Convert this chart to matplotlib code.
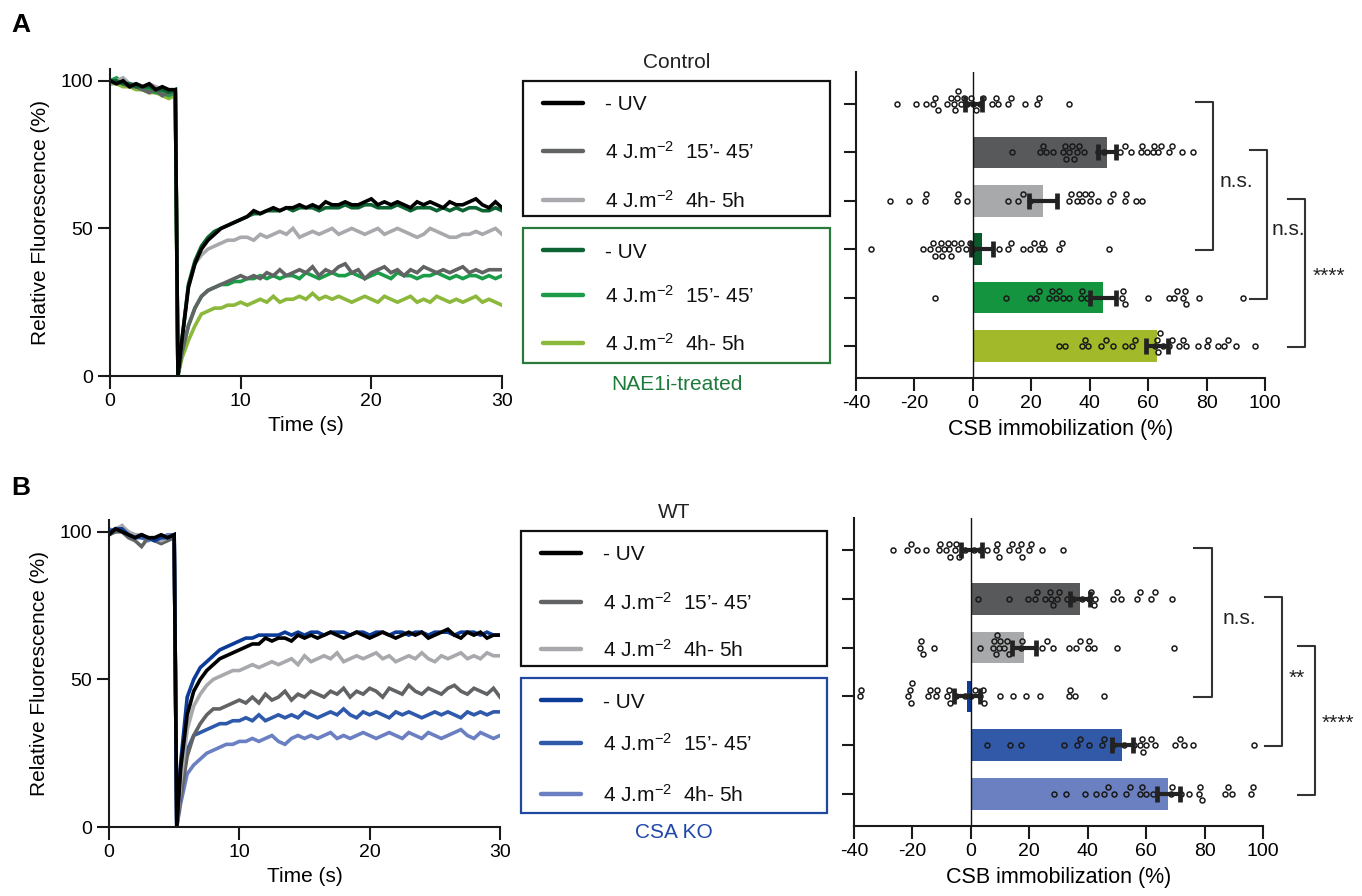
import matplotlib
matplotlib.use('Agg')
import matplotlib.pyplot as plt
from matplotlib.patches import Rectangle

plt.rcParams['font.family'] = ['Liberation Sans', 'DejaVu Sans']
plt.rcParams['mathtext.fontset'] = 'custom'
plt.rcParams['mathtext.rm'] = 'Liberation Sans'
plt.rcParams['mathtext.it'] = 'Liberation Sans:italic'
plt.rcParams['mathtext.bf'] = 'Liberation Sans:bold'
plt.rcParams['mathtext.default'] = 'regular'
plt.rcParams['axes.unicode_minus'] = False

# ---------------- DATA ----------------
TIME = [0.0, 0.5, 1.0, 1.5, 2.0, 2.5, 3.0, 3.5, 4.0, 4.5, 5.0, 5.2,
        5.5, 6.0, 6.5, 7.0, 7.5, 8.0, 8.5, 9.0, 9.5, 10.0,
        10.5, 11.0, 11.5, 12.0, 12.5, 13.0, 13.5, 14.0, 14.5, 15.0,
        15.5, 16.0, 16.5, 17.0, 17.5, 18.0, 18.5, 19.0, 19.5, 20.0,
        20.5, 21.0, 21.5, 22.0, 22.5, 23.0, 23.5, 24.0, 24.5, 25.0,
        25.5, 26.0, 26.5, 27.0, 27.5, 28.0, 28.5, 29.0, 29.5, 30.0]

# Panel A FRAP curves (Relative fluorescence, %)
A_CTRL_NOUV = [100, 99, 100, 98, 99, 98, 99, 97, 98, 97, 97, 0,
               12, 30, 38, 43, 46, 48, 50, 51, 52, 53,
               54, 56, 55, 56, 57, 56, 57, 57, 58, 57,
               58, 57, 59, 58, 58, 59, 58, 58, 59, 60,
               58, 59, 58, 59, 58, 57, 59, 58, 59, 58,
               57, 59, 58, 58, 59, 60, 58, 57, 59, 57]
A_CTRL_15 = [99, 100, 99, 98, 98, 97, 96, 97, 95, 96, 96, 0,
             8, 17, 23, 27, 29, 30, 31, 32, 33, 34,
             33, 34, 33, 35, 34, 36, 34, 35, 36, 35,
             37, 34, 36, 35, 37, 38, 35, 36, 33, 35,
             36, 37, 35, 36, 34, 36, 35, 37, 36, 35,
             36, 35, 36, 37, 35, 36, 35, 36, 36, 36]
A_CTRL_4H = [99, 100, 101, 99, 99, 98, 99, 98, 97, 96, 97, 0,
             12, 30, 38, 41, 43, 44, 45, 46, 46, 47,
             47, 46, 48, 47, 48, 49, 48, 50, 47, 48,
             49, 48, 49, 50, 48, 49, 50, 49, 48, 49,
             50, 48, 49, 50, 49, 48, 47, 48, 50, 49,
             48, 47, 47, 48, 48, 49, 48, 49, 50, 48]
A_NAE_NOUV = [100, 100, 99, 99, 98, 98, 98, 97, 97, 96, 97, 0,
              12, 31, 39, 44, 47, 49, 50, 51, 52, 53,
              54, 55, 55, 56, 56, 56, 57, 56, 57, 57,
              57, 56, 57, 57, 57, 58, 57, 57, 58, 58,
              57, 57, 57, 58, 57, 56, 57, 57, 57, 56,
              57, 56, 57, 56, 57, 57, 56, 56, 57, 56]
A_NAE_15 = [100, 101, 99, 99, 98, 97, 97, 96, 96, 95, 96, 0,
            8, 17, 23, 27, 29, 30, 31, 31, 32, 32,
            33, 33, 34, 33, 34, 33, 34, 34, 33, 35,
            34, 33, 34, 35, 34, 34, 35, 34, 33, 34,
            35, 34, 33, 35, 34, 34, 33, 34, 34, 35,
            34, 33, 34, 33, 34, 34, 33, 34, 33, 34]
A_NAE_4H = [99, 99, 98, 98, 97, 97, 96, 96, 95, 94, 95, 0,
            6, 12, 17, 21, 22, 23, 23, 24, 24, 25,
            24, 25, 26, 25, 27, 25, 26, 26, 27, 26,
            28, 26, 27, 26, 27, 26, 25, 26, 27, 26,
            25, 27, 26, 25, 26, 27, 25, 26, 25, 27,
            26, 25, 26, 25, 26, 27, 25, 26, 25, 24]

# Panel B FRAP curves
B_WT_NOUV = [99, 101, 100, 99, 98, 99, 98, 98, 99, 98, 99, 0,
             20, 38, 46, 50, 53, 55, 57, 58, 59, 60,
             61, 62, 62, 64, 63, 64, 64, 63, 65, 64,
             65, 64, 65, 66, 65, 64, 65, 66, 65, 64,
             65, 66, 65, 64, 65, 66, 65, 66, 64, 65,
             66, 67, 65, 64, 66, 65, 66, 64, 65, 65]
B_WT_15 = [99, 100, 100, 98, 97, 95, 98, 97, 96, 97, 98, 0,
           10, 24, 31, 35, 38, 40, 40, 41, 42, 43,
           42, 44, 42, 45, 43, 44, 46, 43, 45, 44,
           46, 45, 44, 46, 45, 47, 44, 46, 45, 47,
           46, 44, 47, 46, 45, 48, 46, 45, 47, 46,
           45, 47, 48, 46, 45, 47, 46, 45, 47, 44]
B_WT_4H = [100, 101, 102, 100, 99, 99, 98, 98, 97, 98, 99, 0,
           15, 33, 41, 45, 48, 50, 51, 52, 53, 53,
           54, 55, 54, 55, 56, 55, 56, 57, 55, 58,
           56, 57, 58, 57, 59, 56, 57, 58, 57, 58,
           59, 57, 58, 56, 57, 58, 57, 59, 57, 56,
           58, 57, 58, 59, 57, 58, 57, 59, 58, 58]
B_KO_NOUV = [100, 101, 101, 99, 98, 99, 98, 97, 98, 98, 99, 0,
             22, 44, 50, 54, 56, 58, 60, 61, 62, 63,
             64, 64, 65, 65, 65, 65, 66, 65, 66, 65,
             66, 66, 65, 66, 66, 66, 65, 66, 66, 65,
             66, 66, 65, 66, 66, 65, 66, 66, 65, 66,
             66, 66, 65, 66, 66, 66, 65, 66, 65, 65]
B_KO_15 = [99, 101, 100, 99, 98, 98, 98, 97, 98, 98, 99, 0,
           12, 26, 31, 32, 33, 34, 35, 35, 36, 36,
           37, 36, 38, 36, 37, 38, 37, 38, 37, 39,
           38, 37, 38, 39, 38, 40, 38, 37, 39, 38,
           39, 38, 37, 39, 38, 39, 38, 37, 38, 39,
           38, 39, 38, 37, 39, 38, 39, 38, 39, 39]
B_KO_4H = [101, 100, 102, 99, 99, 98, 97, 98, 98, 99, 99, 0,
           8, 18, 21, 23, 25, 26, 27, 28, 28, 29,
           29, 30, 29, 30, 31, 29, 28, 30, 31, 30,
           31, 30, 31, 32, 30, 31, 30, 31, 32, 31,
           30, 31, 32, 31, 30, 32, 31, 30, 32, 31,
           30, 31, 32, 33, 31, 30, 32, 31, 30, 31]

LEGEND_LABELS = ['- UV', r'4 J.m$^{-2}$  15’- 45’', r'4 J.m$^{-2}$  4h- 5h']

# Bar charts: CSB immobilization (%) mean, SEM and individual cells
A_MEANS = [0.3, 46, 24, 3, 44.6, 63]
A_SEM = [3, 3, 4.8, 3.8, 4.5, 3.8]
A_DOTS = [
    [-26, -19.5, -16, -13.5, -13, -12, -9, -7.5, -6.5, -6, -5.5, -5, -4, -3, -2,
     -0.5, 0, 1, 2.5, 3.5, 6.5, 8, 8.5, 12, 13, 18, 22, 22.5, 33],
    [13.5, 23, 24, 25, 27.5, 31, 31.5, 32, 33, 34, 34.5, 35.5, 36.5, 38, 43, 45,
     50.5, 52, 54, 57.5, 58, 59.5, 61.5, 62, 63.5, 64.5, 67, 68, 71.5, 75.5],
    [-28.5, -22, -16.5, -16, -5.5, -5, -2, 12, 15.5, 17, 19.5, 33, 33.5, 35.5,
     36.5, 37.5, 38.5, 40, 40.5, 43, 47, 48, 52, 52.5, 56, 58],
    [-35, -17, -14.5, -13.5, -13, -12, -11, -10.5, -10, -8.5, -8, -7.5, -6.5, -5,
     -4, -2.5, -1, 0, 9, 12, 13, 17, 19.5, 21, 22.5, 23.5, 24.5, 29.5, 30.5, 46.5],
    [-13, 11.5, 19.5, 21.5, 22.5, 26, 27, 28.5, 29.5, 31, 33, 37, 37.5, 39, 51,
     51.5, 52, 60, 67, 69, 70, 72, 72.5, 73, 77.5, 92.5],
    [29.5, 31.5, 37.5, 38.5, 39.5, 44, 45.5, 48, 52, 54.5, 55.5, 62.5, 63, 63.5,
     64, 65, 67, 68, 70.5, 72, 73, 77, 80, 80.5, 84, 86, 87.5, 90, 96.5],
]
B_MEANS = [0.2, 37.4, 18.2, -1.3, 51.9, 67.6]
B_SEM = [3.6, 3.4, 4.2, 4.4, 3.7, 4.0]
B_DOTS = [
    [-26.5, -22, -20.5, -18.5, -15.5, -11, -10.5, -8.5, -7.5, -7, -5.5, -5, -4,
     -2, 1, 3, 5.5, 8.5, 9, 9.5, 13, 14, 16, 17, 17.5, 20, 20.5, 24.5, 31.5],
    [2.5, 13, 19.5, 22, 22.5, 25.5, 27, 27.5, 28, 29.5, 30, 33, 35, 38, 40.5, 41,
     42, 42.5, 48.5, 50, 51.5, 57, 58, 61.5, 63, 69],
    [-17.5, -17, -16.5, -12.5, 3, 7.5, 8, 8.5, 9, 9.5, 10, 11.5, 12.5, 13, 17,
     17.5, 24.5, 26, 28, 33.5, 36, 37.5, 40, 40.5, 42, 50, 69.5],
    [-38, -37.5, -21.5, -21, -20.5, -20, -14.5, -14, -12, -11.5, -8, -7.5, -7, -5,
     -2, 0, 1.5, 3, 4, 4.5, 10, 14.5, 19, 23.5, 33.5, 34, 35.5, 45.5],
    [5.5, 13.5, 17, 32, 36.5, 37.5, 40.5, 45, 45.5, 48.5, 52.5, 56, 58, 58.5, 59,
     60, 61.5, 63, 70, 71.5, 73, 76, 97],
    [28.5, 32.5, 39, 43, 45.5, 47, 49, 53, 54.5, 58, 58.5, 60, 62.5, 68.5, 69, 72,
     74.5, 78, 78.5, 79, 87, 88, 89.5, 96, 96.5],
]
A_SIG = [(0, 3, 'n.s.'), (1, 4, 'n.s.'), (2, 5, '****')]
B_SIG = [(0, 3, 'n.s.'), (1, 4, '**'), (2, 5, '****')]

# ---------------- STYLE ----------------
GREYS = ['#000000', '#626365', '#a7a9ac']
GREENS = ['#0d6432', '#1c9c48', '#8cb83c']
BLUES = ['#0c3b98', '#2f5aab', '#6b80c2']
A_BAR_COLORS = ['#000000', '#58595b', '#a7a9ab', '#0b5a2c', '#14943f', '#a2ba2a']
B_BAR_COLORS = ['#000000', '#58595b', '#a7a9ab', '#0d3d99', '#3259a8', '#6b80c0']

W, H = 1362, 896
fig = plt.figure(figsize=(W / 100, H / 100), dpi=100)


def rect(l, t, r, b):
    return [l / W, 1 - b / H, (r - l) / W, (b - t) / H]


ov = fig.add_axes([0, 0, 1, 1])
ov.set_xlim(0, W)
ov.set_ylim(H, 0)
ov.axis('off')


def style_axes(ax, labelsize=14):
    for s in ['top', 'right']:
        ax.spines[s].set_visible(False)
    for s in ['left', 'bottom']:
        ax.spines[s].set_linewidth(1.5)
        ax.spines[s].set_color('#1a1a1a')
    ax.tick_params(direction='out', length=9, width=1.5, labelsize=labelsize,
                   color='#1a1a1a')


def frap(ax, curves, colors):
    for y, c in zip(curves, colors):
        assert len(y) == len(TIME)
        ax.plot(TIME, y, color=c, lw=2.6, solid_joinstyle='miter')
    ax.set_xlim(0, 30)
    ax.set_ylim(0, 104)
    ax.set_xticks([0, 10, 20, 30])
    ax.set_yticks([0, 50, 100])
    style_axes(ax)
    ax.set_xlabel('Time (s)', fontsize=15, labelpad=4)
    ax.set_ylabel('Relative Fluorescence (%)', fontsize=15, labelpad=7)


axA = fig.add_axes(rect(110, 69, 502, 376))
frap(axA, [A_NAE_4H, A_NAE_15, A_CTRL_15, A_CTRL_4H, A_NAE_NOUV, A_CTRL_NOUV],
     [GREENS[2], GREENS[1], GREYS[1], GREYS[2], GREENS[0], GREYS[0]])
axB = fig.add_axes(rect(109, 520, 500, 827))
frap(axB, [B_KO_4H, B_KO_15, B_WT_15, B_WT_4H, B_KO_NOUV, B_WT_NOUV],
     [BLUES[2], BLUES[1], GREYS[1], GREYS[2], BLUES[0], GREYS[0]])


def swarm(vals, px_unit=2.92, thr_px=5.0):
    order = sorted(vals)
    placed = []
    out = []
    for v in order:
        x = v * px_unit
        for k in [0, -1, 1, -2, 2, -3, 3, -4, 4]:
            if all(not (abs(x - px) < thr_px and pk == k) for px, pk in placed):
                break
        placed.append((x, k))
        out.append((v, k))
    return out


def bars(ax, means, sems, dots, colors, sig, sig_x, sig_tx, sig_ty):
    rows = list(range(len(means)))
    ax.barh(rows, means, height=0.65, color=colors, zorder=2)
    step = 6.4 / 48.4
    for r, vals in zip(rows, dots):
        pts = swarm(vals)
        ax.plot([p[0] for p in pts], [r + p[1] * step for p in pts], 'o',
                ms=3.6, mfc='none', mec='#1a1a1a', mew=1.1, zorder=3)
    ax.errorbar(means, rows, xerr=sems, fmt='none', ecolor='#222222',
                elinewidth=3, capsize=5.8, capthick=3.4, zorder=4)
    ax.axvline(0, color='#111111', lw=1.0, zorder=5)
    ax.set_xlim(-40, 100)
    ax.set_ylim(5.66, -0.66)
    ax.set_xticks(range(-40, 101, 20))
    ax.set_yticks(rows)
    ax.set_yticklabels([])
    style_axes(ax, labelsize=14)
    ax.set_xlabel('CSB immobilization (%)', fontsize=15.5, labelpad=5)
    for (r0, r1, lab), (x0, x1), tx, ty in zip(sig, sig_x, sig_tx, sig_ty):
        ax.plot([x0, x1, x1, x0], [r0 - 0.04, r0 - 0.04, r1 + 0.02, r1 + 0.02],
                color='#333333', lw=1.5, clip_on=False)
        ax.text(tx, ty, lab, fontsize=15, color='#222222', ha='left',
                va='center', clip_on=False)


barA = fig.add_axes(rect(856, 72, 1265, 378))
bars(barA, A_MEANS, A_SEM, A_DOTS, A_BAR_COLORS, A_SIG,
     [(76.4, 82.2), (94.9, 100.7), (107.9, 113.7)],
     [84.6, 102.4, 116.4], [1.6, 2.6, 3.57])
barB = fig.add_axes(rect(854, 518, 1263, 826))
bars(barB, B_MEANS, B_SEM, B_DOTS, B_BAR_COLORS, B_SIG,
     [(76.4, 82.5), (100.7, 106.5), (112, 117.8)],
     [86, 108.9, 119.9], [1.4, 2.64, 3.55])


# ---------------- legends (overlay, pixel coordinates) ----------------
def legend(title, sub, sub_color, box_color, cols1, cols2, x0, x1, tops, rows1, rows2,
           title_y, sub_y):
    ov.text((x0 + x1) / 2, title_y, title, fontsize=15, ha='center', va='center',
            color='#222222')
    ov.add_patch(Rectangle((x0, tops[0]), x1 - x0, tops[1] - tops[0], fill=False,
                           ec='#111111', lw=1.6))
    ov.add_patch(Rectangle((x0, tops[2]), x1 - x0, tops[3] - tops[2], fill=False,
                           ec=box_color, lw=1.6))
    for cols, rows in [(cols1, rows1), (cols2, rows2)]:
        for c, y, lab in zip(cols, rows, LEGEND_LABELS):
            ov.plot([x0 + 20, x0 + 60], [y, y], color=c, lw=3.2,
                    solid_capstyle='round')
            ov.text(x0 + 82, y + 7.5, lab, fontsize=15, ha='left', va='baseline',
                    color='#111111')
    ov.text((x0 + x1) / 2, sub_y, sub, fontsize=15, ha='center', va='center',
            color=sub_color)


legend('Control', 'NAE1i-treated', '#1e7a3a', '#2a7a3c', GREYS, GREENS,
       523, 830, (81, 216, 228, 363), (103, 151, 200), (250, 295, 343), 62, 384)
legend('WT', 'CSA KO', '#1f48a8', '#2048a0', GREYS, BLUES,
       521, 827, (531, 666, 678, 813), (553, 602, 649), (700, 743, 794), 513, 833)

ov.text(11, 25, 'A', fontsize=19, fontweight='bold', ha='left', va='center')
ov.text(11, 488, 'B', fontsize=19, fontweight='bold', ha='left', va='center')

fig.savefig('out.png', dpi=100)
